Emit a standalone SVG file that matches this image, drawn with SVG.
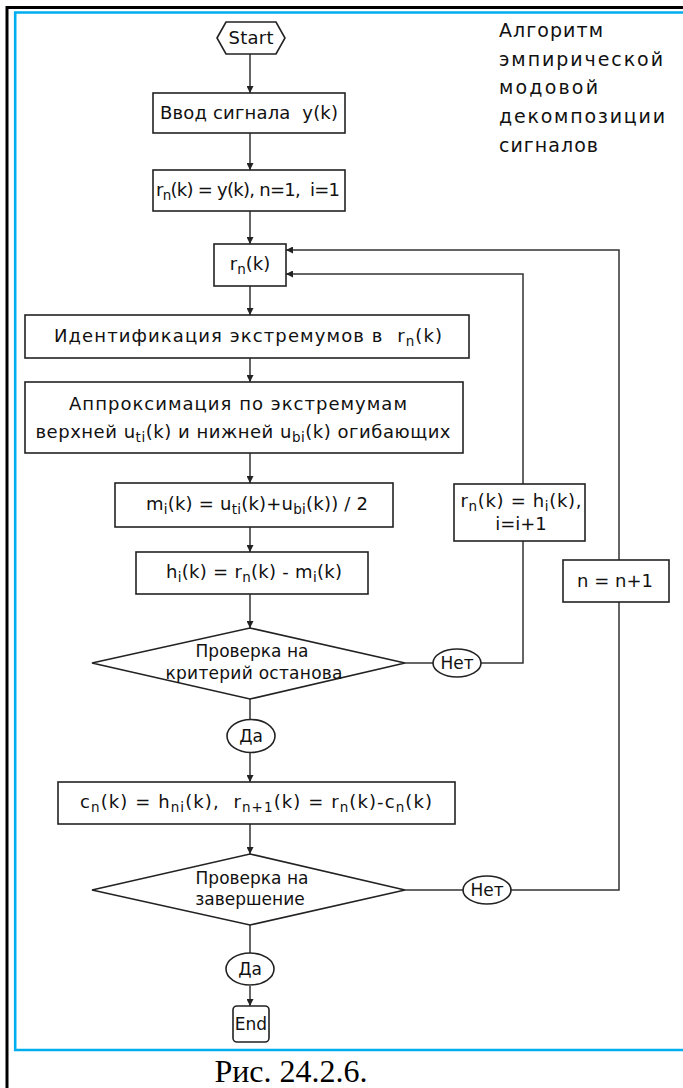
<svg xmlns="http://www.w3.org/2000/svg" width="683" height="1088" viewBox="0 0 683 1088">
  <style>
    .box { fill: #ffffff; stroke: #222222; stroke-width: 1.6; }
    .conn { fill: none; stroke: #333333; stroke-width: 1.5; }
    .t { font-family: "DejaVu Sans", "Liberation Sans", sans-serif; font-size: 18px; fill: #111111; }
    .d { font-family: "DejaVu Sans", "Liberation Sans", sans-serif; font-size: 17px; fill: #111111; }
    .c { text-anchor: middle; }
    .sub { font-size: 13.5px; }
    .title { font-family: "DejaVu Sans", "Liberation Sans", sans-serif; font-size: 19px; fill: #111111; }
    .caption { font-family: "Liberation Serif", "Times New Roman", serif; font-size: 32px; fill: #000000; }
  </style>
  <defs>
    <marker id="arr" markerUnits="userSpaceOnUse" markerWidth="7" markerHeight="7" refX="7" refY="3.5" orient="auto">
      <path d="M0,0 L7,3.5 L0,7 z" fill="#222222"/>
    </marker>
  </defs>

  <rect width="683" height="1088" fill="#ffffff"/>

  <!-- page frame -->
  <g id="frame">
    <line x1="7" y1="6" x2="7" y2="1088" stroke="#000000" stroke-width="3"/>
    <line x1="6" y1="7.5" x2="683" y2="7.5" stroke="#000000" stroke-width="3"/>
    <path d="M690,12.5 H15.2 V1050 H690" fill="none" stroke="#00aeef" stroke-width="2.6"/>
  </g>

  <!-- connectors -->
  <g id="connectors" class="conn">
    <path d="M250,54 V93" marker-end="url(#arr)"/>
    <path d="M250,133 V170" marker-end="url(#arr)"/>
    <path d="M250,211 V244" marker-end="url(#arr)"/>
    <path d="M250,286 V315" marker-end="url(#arr)"/>
    <path d="M250,358 V382" marker-end="url(#arr)"/>
    <path d="M250,453 V483" marker-end="url(#arr)"/>
    <path d="M250,527 V552" marker-end="url(#arr)"/>
    <path d="M250,594 V628" marker-end="url(#arr)"/>
    <path d="M405,663 H433"/>
    <path d="M481,663 H523 V274 H286" marker-end="url(#arr)"/>
    <path d="M250,699 V720"/>
    <path d="M250,753 V782" marker-end="url(#arr)"/>
    <path d="M250,824 V854" marker-end="url(#arr)"/>
    <path d="M405,890 H463"/>
    <path d="M511,890 H619 V250 H286" marker-end="url(#arr)"/>
    <path d="M250,925 V953"/>
    <path d="M250,986 V1006" marker-end="url(#arr)"/>
  </g>

  <g id="start">
    <polygon class="box" points="217,38 226,22 276,22 285,38 276,54 226,54"/>
    <text class="t c" x="251" y="44" textLength="45">Start</text>
  </g>

  <g id="input">
    <rect class="box" x="153" y="93" width="192" height="40"/>
    <text class="t c" x="249" y="119" xml:space="preserve" textLength="178">Ввод сигнала  y(k)</text>
  </g>

  <g id="init">
    <rect class="box" x="153" y="170" width="192" height="41"/>
    <text class="t c" x="248" y="196" xml:space="preserve" textLength="184">r<tspan class="sub" dy="4">n</tspan><tspan dy="-4">(k) = y(k), n=1,  i=1</tspan></text>
  </g>

  <g id="residual">
    <rect class="box" x="214" y="244" width="72" height="42"/>
    <text class="t c" x="250" y="270">r<tspan class="sub" dy="4">n</tspan><tspan dy="-4">(k)</tspan></text>
  </g>

  <g id="extrema">
    <rect class="box" x="25" y="315" width="444" height="43"/>
    <text class="t c" x="248" y="342" xml:space="preserve" textLength="388">Идентификация экстремумов в  r<tspan class="sub" dy="4">n</tspan><tspan dy="-4">(k)</tspan></text>
  </g>

  <g id="envelopes">
    <rect class="box" x="25" y="382" width="438" height="71"/>
    <text class="t c" x="238" y="410" textLength="338">Аппроксимация по экстремумам</text>
    <text class="t c" x="243" y="438" textLength="415">верхней u<tspan class="sub" dy="4">ti</tspan><tspan dy="-4">(k) и нижней u</tspan><tspan class="sub" dy="4">bi</tspan><tspan dy="-4">(k) огибающих</tspan></text>
  </g>

  <g id="mean">
    <rect class="box" x="115" y="483" width="278" height="44"/>
    <text class="t c" x="257" y="510" textLength="222">m<tspan class="sub" dy="4">i</tspan><tspan dy="-4">(k) = u</tspan><tspan class="sub" dy="4">ti</tspan><tspan dy="-4">(k)+u</tspan><tspan class="sub" dy="4">bi</tspan><tspan dy="-4">(k)) / 2</tspan></text>
  </g>

  <g id="detail">
    <rect class="box" x="136" y="552" width="232" height="42"/>
    <text class="t c" x="254" y="578" textLength="176">h<tspan class="sub" dy="4">i</tspan><tspan dy="-4">(k) = r</tspan><tspan class="sub" dy="4">n</tspan><tspan dy="-4">(k) - m</tspan><tspan class="sub" dy="4">i</tspan><tspan dy="-4">(k)</tspan></text>
  </g>

  <g id="stop-check">
    <polygon class="box" points="92,663 250,628 405,663 250,699"/>
    <text class="d c" x="252" y="657">Проверка на</text>
    <text class="d c" x="254" y="679" textLength="177">критерий останова</text>
  </g>

  <g id="no-1">
    <ellipse class="box" cx="457" cy="663" rx="24" ry="14"/>
    <text class="d c" x="457" y="669">Нет</text>
  </g>

  <g id="next-sift">
    <rect class="box" x="454" y="484" width="131" height="57"/>
    <text class="t c" x="521" y="507" textLength="121">r<tspan class="sub" dy="4">n</tspan><tspan dy="-4">(k) = h</tspan><tspan class="sub" dy="4">i</tspan><tspan dy="-4">(k),</tspan></text>
    <text class="t c" x="521" y="530">i=i+1</text>
  </g>

  <g id="yes-1">
    <ellipse class="box" cx="251" cy="736" rx="24" ry="16.5"/>
    <text class="d c" x="251" y="742">Да</text>
  </g>

  <g id="imf">
    <rect class="box" x="58" y="782" width="397" height="42"/>
    <text class="t c" x="256" y="808" xml:space="preserve" textLength="352">c<tspan class="sub" dy="4">n</tspan><tspan dy="-4">(k) = h</tspan><tspan class="sub" dy="4">ni</tspan><tspan dy="-4">(k),  r</tspan><tspan class="sub" dy="4">n+1</tspan><tspan dy="-4">(k) = r</tspan><tspan class="sub" dy="4">n</tspan><tspan dy="-4">(k)-c</tspan><tspan class="sub" dy="4">n</tspan><tspan dy="-4">(k)</tspan></text>
  </g>

  <g id="end-check">
    <polygon class="box" points="92,890 250,854 405,890 250,925"/>
    <text class="d c" x="252" y="884">Проверка на</text>
    <text class="d c" x="250" y="905">завершение</text>
  </g>

  <g id="no-2">
    <ellipse class="box" cx="487" cy="890" rx="24" ry="14"/>
    <text class="d c" x="487" y="896">Нет</text>
  </g>

  <g id="next-mode">
    <rect class="box" x="563" y="560" width="106" height="42"/>
    <text class="t c" x="615" y="587" textLength="76">n = n+1</text>
  </g>

  <g id="yes-2">
    <ellipse class="box" cx="250" cy="969" rx="24" ry="16"/>
    <text class="d c" x="250" y="975">Да</text>
  </g>

  <g id="end">
    <rect class="box" x="233" y="1006" width="36" height="36" rx="4"/>
    <text class="d c" x="251" y="1030">End</text>
  </g>

  <g id="title">
    <text class="title" x="499" y="37" textLength="104">Алгоритм</text>
    <text class="title" x="499" y="66" textLength="164">эмпирической</text>
    <text class="title" x="499" y="94" textLength="99">модовой</text>
    <text class="title" x="499" y="123" textLength="166">декомпозиции</text>
    <text class="title" x="499" y="152" textLength="99">сигналов</text>
  </g>

  <text class="caption" x="291" y="1082" text-anchor="middle">Рис. 24.2.6.</text>
</svg>
